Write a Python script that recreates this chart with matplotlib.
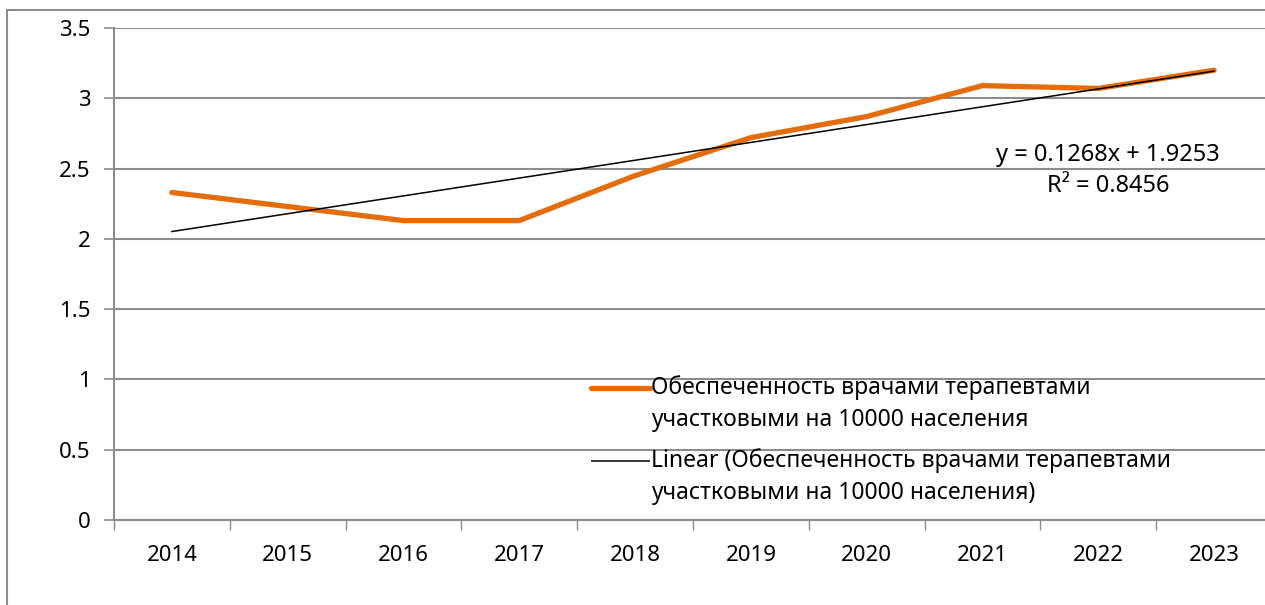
import numpy as np
import matplotlib
matplotlib.use('Agg')
import matplotlib.pyplot as plt
from matplotlib.patches import Rectangle
from matplotlib.lines import Line2D

plt.rcParams['font.family'] = ['Noto Sans', 'DejaVu Sans']

years = ['2014', '2015', '2016', '2017', '2018', '2019', '2020', '2021', '2022', '2023']
values = [2.33, 2.23, 2.13, 2.13, 2.45, 2.72, 2.87, 3.09, 3.07, 3.20]
slope = 0.1268
intercept = 1.9253
r2 = 0.8456
label_main = 'Обеспеченность врачами терапевтами\nучастковыми на 10000 населения'
label_trend = 'Linear (Обеспеченность врачами терапевтами\nучастковыми на 10000 населения)'

grid_c = '#8c8c8c'
orange = '#E46C0A'

W, H = 1265, 605
fig = plt.figure(figsize=(W / 100, H / 100), dpi=100)
# plot area runs a little past the right edge of the picture (cropped screenshot)
ax = fig.add_axes([114 / W, 1 - 520 / H, (1272 - 114) / W, (520 - 28) / H])

def fx(px):
    return px / W

def fy(py):
    return 1 - py / H

# outer chart border (cropped at right/bottom)
fig.patches.append(Rectangle((fx(7), -0.1), 1.2, fy(10) + 0.1, transform=fig.transFigure,
                             fill=False, ec=grid_c, lw=1.5))

x = np.arange(len(years))
trend = slope * (x + 1) + intercept

ax.plot(x, values, color=orange, lw=3.8, solid_capstyle='round', zorder=3)
ax.plot(x, trend, color='black', lw=1.1, zorder=4)

ax.set_xlim(-0.5, len(years) - 0.5)
ax.set_ylim(0, 3.5)
ax.set_yticks(np.arange(0, 3.51, 0.5))
ax.set_yticklabels(['0', '0.5', '1', '1.5', '2', '2.5', '3', '3.5'])
ax.set_xticks(x)
ax.set_xticklabels(years)
ax.set_xticks(np.arange(-0.5, len(years), 1), minor=True)
ax.tick_params(axis='x', which='major', length=0, pad=18, labelsize=16)
ax.tick_params(axis='x', which='minor', length=7, color=grid_c, width=1)
ax.tick_params(axis='y', length=7, color=grid_c, width=1.2, labelsize=16, pad=10)
ax.yaxis.grid(True, color=grid_c, lw=1.5)
ax.set_axisbelow(True)
for s in ['top', 'right']:
    ax.spines[s].set_visible(False)
for s in ['left', 'bottom']:
    ax.spines[s].set_color(grid_c)
    ax.spines[s].set_linewidth(1.5)

# trendline equation
fig.text(fx(1108), fy(155), f'y = {slope}x + {intercept}', ha='center', va='center', fontsize=17)
fig.text(fx(1108), fy(186), f'R² = {r2}', ha='center', va='center', fontsize=17)

# legend, drawn by hand so the key sits on the first text line
legend_items = [(label_main, orange, 3.8, 388), (label_trend, 'black', 1.1, 461)]
for text, col, lw, ypx in legend_items:
    fig.add_artist(Line2D([fx(591), fx(650)], [fy(ypx), fy(ypx)], color=col, lw=lw,
                          solid_capstyle='round' if lw > 2 else 'butt', transform=fig.transFigure))
    first, second = text.split('\n')
    fig.text(fx(651), fy(ypx), first, ha='left', va='center', fontsize=16.5)
    fig.text(fx(651), fy(ypx + 32), second, ha='left', va='center', fontsize=16.5)

fig.savefig('out.png', dpi=100)
